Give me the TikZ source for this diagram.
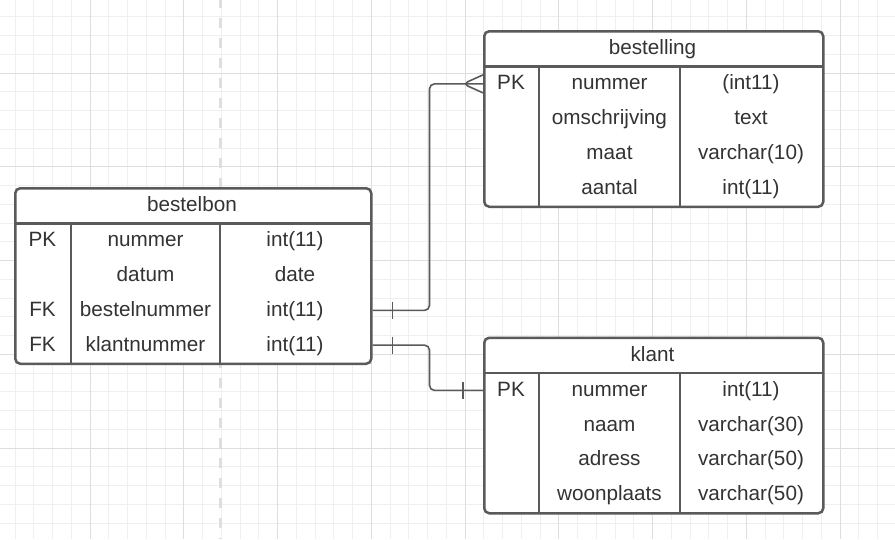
\documentclass[tikz,border=0pt]{standalone}
\usepackage{fontspec}
\setmainfont{Liberation Sans}
\usetikzlibrary{positioning}
\definecolor{linegray}{HTML}{5A5A5A}
\definecolor{textgray}{HTML}{333333}
\definecolor{minorgray}{HTML}{EFEFEF}
\definecolor{majorgray}{HTML}{DEDEDE}
\tikzset{
  grid minor/.style={draw=minorgray, line width=1pt},
  grid major/.style={draw=majorgray, line width=1pt},
  page break/.style={draw=majorgray, line width=3pt, dash pattern=on 10pt off 10pt, dash phase=2pt},
  entity/.style={draw=linegray, fill=white, line width=2.5pt, rounded corners=5pt,
    rectangle, minimum height=175.5pt, inner sep=0pt},
  table line/.style={draw=linegray, line width=2.2pt},
  cell/.style={text=textgray, font=\fontsize{20.7}{24}\selectfont, inner sep=0pt,
    text height=16pt, text depth=4pt},
  relation/.style={draw=linegray, line width=1.6pt, rounded corners=5pt},
}
\begin{document}
\begin{tikzpicture}[x=1pt,y=-1pt]
  \useasboundingbox (0,0) rectangle (895,539);
  \fill[white] (0,0) rectangle (895,539);
  \foreach \i in {0,...,46} \draw[grid minor] ({15+18.75*\i},0) -- ({15+18.75*\i},539);
  \foreach \j in {0,...,27} \draw[grid minor] (0,{16.75+18.75*\j}) -- (895,{16.75+18.75*\j});
  \foreach \i in {0,...,8} \draw[grid major] ({90+93.75*\i},0) -- ({90+93.75*\i},539);
  \foreach \j in {0,...,4} \draw[grid major] (0,{73+93.75*\j}) -- (895,{73+93.75*\j});
  \draw[page break] (220,0) -- (220,539);

  \node (bestelbon) [entity, minimum width=356pt, anchor=north west] at (14,187) {};
  \draw[table line] (bestelbon.north west) ++(0,36.5) -- ++(356,0);
  \draw[table line] (bestelbon.north west) ++(57,36.5) -- ++(0,139);
  \draw[table line] (bestelbon.north west) ++(206,36.5) -- ++(0,139);
  \node (bb-title) [cell] at (192,205.75) {bestelbon};
  \node (bb-pk1) [cell] at (42.5,240.875) {PK};
  \node (bb-nm1) [cell] at (145.5,240.875) {nummer};
  \node (bb-ty1) [cell] at (295,240.875) {int(11)};
  \node (bb-nm2) [cell] at (145.5,275.625) {datum};
  \node (bb-ty2) [cell] at (295,275.625) {date};
  \node (bb-pk3) [cell] at (42.5,310.375) {FK};
  \node (bb-nm3) [cell] at (145.5,310.375) {bestelnummer};
  \node (bb-ty3) [cell] at (295,310.375) {int(11)};
  \node (bb-pk4) [cell] at (42.5,345.125) {FK};
  \node (bb-nm4) [cell] at (145.5,345.125) {klantnummer};
  \node (bb-ty4) [cell] at (295,345.125) {int(11)};

  \node (bestelling) [entity, minimum width=339pt, anchor=north west] at (483,30) {};
  \draw[table line] (bestelling.north west) ++(0,36.5) -- ++(339,0);
  \draw[table line] (bestelling.north west) ++(56,36.5) -- ++(0,139);
  \draw[table line] (bestelling.north west) ++(197,36.5) -- ++(0,139);
  \node (bg-title) [cell] at (652.5,48.75) {bestelling};
  \node (bg-pk1) [cell] at (511,83.875) {PK};
  \node (bg-nm1) [cell] at (609.5,83.875) {nummer};
  \node (bg-ty1) [cell] at (751,83.875) {(int11)};
  \node (bg-nm2) [cell] at (609.5,118.625) {omschrijving};
  \node (bg-ty2) [cell] at (751,118.625) {text};
  \node (bg-nm3) [cell] at (609.5,153.375) {maat};
  \node (bg-ty3) [cell] at (751,153.375) {varchar(10)};
  \node (bg-nm4) [cell] at (609.5,188.125) {aantal};
  \node (bg-ty4) [cell] at (751,188.125) {int(11)};

  \node (klant) [entity, minimum width=339pt, anchor=north west] at (483,336.5) {};
  \draw[table line] (klant.north west) ++(0,36.5) -- ++(339,0);
  \draw[table line] (klant.north west) ++(56,36.5) -- ++(0,139);
  \draw[table line] (klant.north west) ++(197,36.5) -- ++(0,139);
  \node (kl-title) [cell] at (652.5,355.25) {klant};
  \node (kl-pk1) [cell] at (511,390.375) {PK};
  \node (kl-nm1) [cell] at (609.5,390.375) {nummer};
  \node (kl-ty1) [cell] at (751,390.375) {int(11)};
  \node (kl-nm2) [cell] at (609.5,425.125) {naam};
  \node (kl-ty2) [cell] at (751,425.125) {varchar(30)};
  \node (kl-nm3) [cell] at (609.5,459.875) {adress};
  \node (kl-ty3) [cell] at (751,459.875) {varchar(50)};
  \node (kl-nm4) [cell] at (609.5,494.625) {woonplaats};
  \node (kl-ty4) [cell] at (751,494.625) {varchar(50)};

  \path (bestelbon.east |- bb-ty3) coordinate (bb-out3) +(20,-8.5) coordinate (bb-t3a) +(20,8.5) coordinate (bb-t3b);
  \path (bestelling.west |- bg-nm1) coordinate (bg-in) +(0,-9) coordinate (bg-in-up) +(0,9) coordinate (bg-in-dn) +(-20,0) coordinate (bg-foot);
  \draw[relation] (bb-out3) -- ++(57,0) |- (bg-in);
  \draw[relation] (bb-t3a) -- (bb-t3b);
  \draw[relation] (bg-in-up) -- (bg-foot) -- (bg-in-dn);

  \path (bestelbon.east |- bb-ty4) coordinate (bb-out4) +(20,-8.5) coordinate (bb-t4a) +(20,8.5) coordinate (bb-t4b);
  \path (klant.west |- kl-nm1) coordinate (kl-in) +(-20,-8.5) coordinate (kl-ta) +(-20,8.5) coordinate (kl-tb);
  \draw[relation] (bb-out4) -- ++(57,0) |- (kl-in);
  \draw[relation] (bb-t4a) -- (bb-t4b);
  \draw[relation] (kl-ta) -- (kl-tb);
\end{tikzpicture}
\end{document}
